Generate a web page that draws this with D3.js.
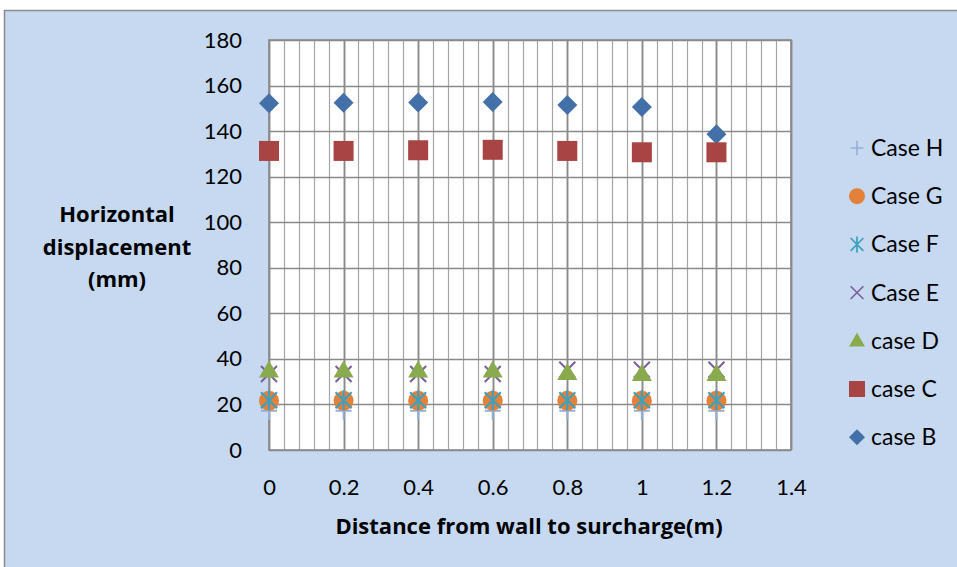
<!DOCTYPE html>
<html><head><meta charset="utf-8">
<script src="https://cdn.jsdelivr.net/npm/d3@7"></script>
<style>body{margin:0;background:#fff}svg{display:block}</style>
</head><body><svg id="c" width="957" height="567"></svg>
<script>
const xValues = [0, 0.2, 0.4, 0.6, 0.8, 1.0, 1.2];
const caseB = [152.2, 152.5, 152.6, 152.8, 151.5, 150.6, 138.6];
const caseC = [131.3, 131.3, 131.6, 131.8, 131.3, 130.7, 130.7];
const caseD = [34.9, 34.9, 34.9, 34.9, 33.8, 33.4, 33.4];
const caseE = [33.4, 33.4, 33.4, 33.4, 35.2, 35.2, 35.2];
const caseF = [21.8, 21.8, 21.8, 21.8, 21.8, 21.8, 21.8];
const caseG = [21.6, 21.6, 21.6, 21.6, 21.6, 21.6, 21.6];
const caseH = [17.2, 17.2, 17.2, 17.2, 17.2, 17.2, 17.2];
const xTicks = [0, 0.2, 0.4, 0.6, 0.8, 1, 1.2, 1.4];
const yTicks = [0, 20, 40, 60, 80, 100, 120, 140, 160, 180];

const series = [
  {name:"Case H", vals:caseH, shape:"plus", color:"#94AED6"},
  {name:"Case G", vals:caseG, shape:"circle", color:"#E3803A"},
  {name:"Case F", vals:caseF, shape:"star", color:"#3DA1BD"},
  {name:"Case E", vals:caseE, shape:"x", color:"#7A5E9C"},
  {name:"case D", vals:caseD, shape:"triangle", color:"#8AAA4E"},
  {name:"case C", vals:caseC, shape:"square", color:"#A94444"},
  {name:"case B", vals:caseB, shape:"diamond", color:"#4470AA"}
];

const FONT = "Lato, sans-serif";
const TFONT = "'Open Sans', sans-serif";
const svg = d3.select("#c");
svg.append("rect").attr("x",4.5).attr("y",10.5).attr("width",960).attr("height",570)
  .attr("fill","#C6D9F0").attr("stroke","#8C8C8C").attr("stroke-width",1.5);

const L=269, R=791, T=40, B=450;
const x = d3.scaleLinear().domain([0,1.4]).range([L,R]);
const y = d3.scaleLinear().domain([0,180]).range([B,T]);

svg.append("rect").attr("x",L).attr("y",T).attr("width",R-L).attr("height",B-T).attr("fill","#fff");
const g = svg.append("g");
const minor = d3.range(0, 1.4001, 0.04);
g.selectAll(".mv").data(minor).join("line")
  .attr("x1",d=>Math.round(x(d))+0.5).attr("x2",d=>Math.round(x(d))+0.5)
  .attr("y1",T).attr("y2",B).attr("stroke","#A6A6A6").attr("stroke-width",1.2);
g.selectAll(".Mv").data(xTicks).join("line")
  .attr("x1",d=>Math.round(x(d))+0.5).attr("x2",d=>Math.round(x(d))+0.5)
  .attr("y1",T).attr("y2",B).attr("stroke","#8A8A8A").attr("stroke-width",1.8);
g.selectAll(".Mh").data(yTicks).join("line")
  .attr("y1",d=>Math.round(y(d))+0.5).attr("y2",d=>Math.round(y(d))+0.5)
  .attr("x1",L).attr("x2",R).attr("stroke","#8A8A8A").attr("stroke-width",1.6);
svg.append("rect").attr("x",L).attr("y",T).attr("width",R-L).attr("height",B-T)
  .attr("fill","none").attr("stroke","#8A8A8A").attr("stroke-width",1.6);

const yAxis = d3.axisLeft(y).tickValues(yTicks).tickSize(0).tickPadding(27);
const ya = svg.append("g").attr("transform",`translate(${L},0)`).call(yAxis);
ya.select(".domain").remove();
ya.selectAll("text").style("font-size","22px").attr("fill","#000").style("font-family",FONT);
const xAxis = d3.axisBottom(x).tickValues(xTicks).tickSize(0).tickPadding(29).tickFormat(d3.format("~g"));
const xa = svg.append("g").attr("transform",`translate(0,${B})`).call(xAxis);
xa.select(".domain").remove();
xa.selectAll("text").style("font-size","22px").attr("fill","#000").style("font-family",FONT);

function drawMarker(sel, shape, color){
  const s = 10;
  if(shape==="diamond") sel.append("path").attr("d",`M0,${-s}L${s},0L0,${s}L${-s},0Z`).attr("fill",color);
  else if(shape==="square") sel.append("rect").attr("x",-s).attr("y",-s).attr("width",2*s).attr("height",2*s).attr("fill",color);
  else if(shape==="triangle") sel.append("path").attr("d",`M0,${-10}L10,7L-10,7Z`).attr("fill",color);
  else if(shape==="circle") sel.append("circle").attr("r",10).attr("fill",color);
  else if(shape==="x") sel.append("path").attr("d","M-8,-8L8,8M-8,8L8,-8").attr("stroke",color).attr("stroke-width",2);
  else if(shape==="star") sel.append("path").attr("d","M-8,-8L8,8M-8,8L8,-8M0,-10L0,10").attr("stroke",color).attr("stroke-width",2.2);
  else if(shape==="plus") sel.append("path").attr("d","M-8,0L8,0M0,-9L0,9").attr("stroke",color).attr("stroke-width",2);
}

const drawOrder = ["case B","case C","Case H","Case E","case D","Case G","Case F"];
drawOrder.forEach(n=>{
  const s = series.find(d=>d.name===n);
  const grp = svg.append("g");
  s.vals.forEach((v,i)=>{
    const m = grp.append("g").attr("transform",`translate(${x(xValues[i])},${y(v)})`);
    drawMarker(m, s.shape, s.color);
  });
});

const lg = svg.append("g");
series.forEach((s,i)=>{
  const yy = 148 + i*48.2;
  const m = lg.append("g").attr("transform",`translate(857,${yy})`);
  const inner = m.append("g").attr("transform","scale(0.8)");
  drawMarker(inner, s.shape, s.color);
  lg.append("text").attr("x",871).attr("y",yy).attr("dy","0.35em")
    .style("font-size","23px").style("font-family",FONT).text(s.name);
});

const yt = svg.append("text").attr("text-anchor","middle")
  .style("font-size","22px").style("font-weight","bold").style("font-family",TFONT);
[["Horizontal",214],["displacement",247],["(mm)",279]].forEach(([t,yy])=>{
  yt.append("tspan").attr("x",117).attr("y",yy).attr("dy","0.35em").text(t);
});
svg.append("text").attr("x",529).attr("y",526).attr("dy","0.35em").attr("text-anchor","middle")
  .style("font-size","22px").style("font-weight","bold").style("font-family",TFONT)
  .text("Distance from wall to surcharge(m)");
</script></body></html>
